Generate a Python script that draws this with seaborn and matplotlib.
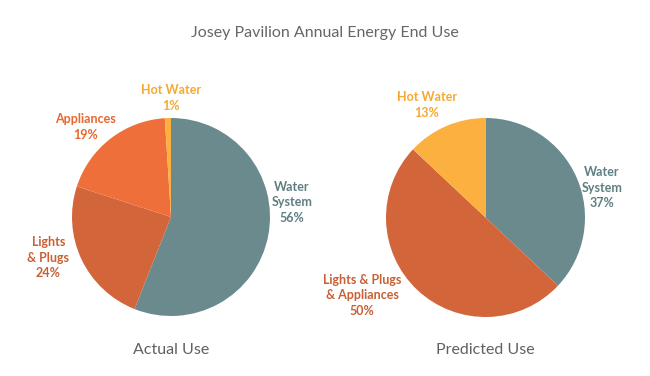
import seaborn as sns
import matplotlib.pyplot as plt

# data
actual_labels = ["Water\nSystem", "Lights\n& Plugs", "Appliances", "Hot Water"]
actual_values = [56, 24, 19, 1]
predicted_labels = ["Water\nSystem", "Lights & Plugs\n& Appliances", "Hot Water"]
predicted_values = [37, 50, 13]

sns.set_style("white")
plt.rcParams['font.family'] = ['Lato', 'DejaVu Sans']

teal = "#6A8A8D"
rust = "#D2653A"
orange = "#EE6F3A"
gold = "#FBB040"
actual_colors = [teal, rust, orange, gold]
predicted_colors = [teal, rust, gold]
label_colors_actual = ["#5E7F82", "#C95F33", "#E8672E", "#F5A933"]
label_colors_pred = ["#5E7F82", "#C95F33", "#F5A933"]

# label offsets from pie centre, in radius units
actual_pos = [(1.22, 0.15), (-1.24, -0.41), (-0.86, 0.91), (0.0, 1.20)]
pred_pos = [(1.17, 0.30), (-1.24, -0.78), (-0.59, 1.13)]

fig = plt.figure(figsize=(6.5, 3.76), dpi=100)
ax1 = fig.add_axes([72 / 650, 60 / 376, 198 / 650, 198 / 376])
ax2 = fig.add_axes([386 / 650, 59 / 376, 199 / 650, 199 / 376])


def draw(ax, values, labels, colors, text_colors, positions):
    ax.pie(values, colors=colors, startangle=90, counterclock=False,
           wedgeprops=dict(linewidth=0))
    for lab, v, c, (x, y) in zip(labels, values, text_colors, positions):
        ax.text(x, y, f"{lab}\n{v}%", ha="center", va="center", color=c,
                fontsize=9, fontweight="bold", linespacing=1.35)
    ax.set_xlim(-1, 1)
    ax.set_ylim(-1, 1)
    ax.set_aspect("equal")


draw(ax1, actual_values, actual_labels, actual_colors, label_colors_actual,
     actual_pos)
draw(ax2, predicted_values, predicted_labels, predicted_colors,
     label_colors_pred, pred_pos)

fig.text(171 / 650, 1 - 350 / 376, "Actual Use", ha="center", va="center",
         color="#606060", fontsize=11.5)
fig.text(485 / 650, 1 - 350 / 376, "Predicted Use", ha="center", va="center",
         color="#606060", fontsize=11.5)
fig.text(0.5, 1 - 33 / 376, "Josey Pavilion Annual Energy End Use",
         ha="center", va="center", color="#666666", fontsize=11.5)

fig.savefig("out.png", dpi=100)
